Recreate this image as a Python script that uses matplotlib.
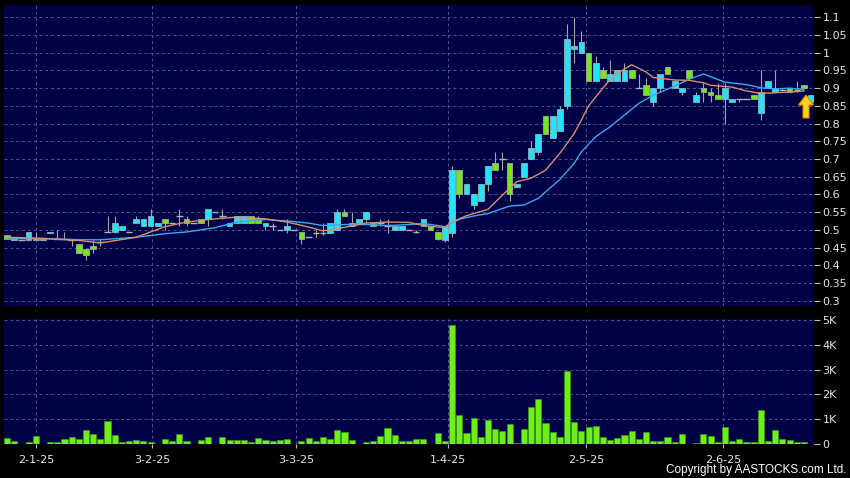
import matplotlib
matplotlib.use("Agg")
import matplotlib.pyplot as plt
import numpy as np
from matplotlib.patches import Polygon

# ---------------- data ----------------
opens = [.485,.470,.470,.470,.475,.470,.490,.475,.475,.470,
         .460,.445,.455,.465,.495,.495,.500,.495,.520,.510,
         .510,.510,.530,.520,.540,.530,.520,.530,.530,.550,
         .540,.510,.520,.520,.540,.530,.510,.510,.500,.500,
         .500,.495,.480,.490,.490,.490,.500,.550,.510,.520,
         .530,.520,.520,.510,.500,.500,.500,.495,.510,.510,
         .495,.470,.490,.670,.600,.570,.580,.630,.690,.700,
         .690,.620,.650,.700,.720,.820,.760,.780,.850,1.010,
         1.000,1.000,.920,.950,.920,.920,.920,.950,.900,.910,
         .860,.900,.960,.900,.890,.950,.860,.900,.890,.880,
         .870,.860,.870,.870,.880,.830,.900,.890,.895,.900,
         .895,.910,.860]
highs = [.485,.475,.470,.495,.495,.475,.495,.500,.495,.470,
         .460,.445,.470,.475,.540,.540,.510,.495,.540,.530,
         .560,.520,.530,.520,.560,.540,.520,.530,.560,.550,
         .560,.520,.540,.540,.540,.540,.520,.520,.500,.530,
         .500,.495,.480,.500,.520,.520,.560,.560,.550,.530,
         .550,.520,.530,.530,.510,.510,.500,.500,.530,.510,
         .495,.510,.680,.670,.630,.600,.630,.680,.720,.720,
         .690,.630,.690,.750,.770,.820,.820,.850,1.080,1.100,
         1.060,1.000,.990,.960,.980,.950,.970,.950,.940,.930,
         .900,.940,.960,.920,.900,.950,.890,.915,.900,.915,
         .915,.870,.870,.870,.880,.950,.920,.950,.900,.900,
         .920,.910,.880]
lows = [.475,.470,.470,.470,.470,.470,.490,.475,.475,.455,
        .435,.415,.435,.455,.495,.490,.500,.495,.520,.510,
        .510,.510,.500,.520,.510,.510,.520,.520,.510,.550,
        .530,.510,.520,.520,.520,.520,.500,.500,.500,.490,
        .500,.460,.480,.480,.485,.490,.500,.540,.510,.520,
        .520,.510,.510,.490,.500,.500,.500,.490,.510,.500,
        .470,.465,.480,.590,.600,.560,.580,.610,.670,.670,
        .580,.620,.650,.700,.710,.770,.760,.780,.840,.970,
        1.000,.920,.920,.930,.920,.920,.920,.930,.900,.880,
        .850,.890,.940,.900,.880,.930,.860,.860,.860,.870,
        .800,.860,.860,.870,.870,.810,.900,.890,.895,.890,
        .890,.900,.860]
closes = [.475,.475,.470,.495,.470,.475,.495,.475,.475,.470,
          .435,.430,.445,.465,.495,.520,.510,.495,.530,.530,
          .540,.520,.520,.520,.540,.520,.520,.520,.560,.550,
          .540,.520,.540,.540,.520,.520,.520,.510,.500,.510,
          .500,.475,.480,.490,.490,.520,.550,.540,.520,.530,
          .550,.510,.520,.510,.510,.510,.500,.495,.530,.500,
          .475,.510,.670,.600,.630,.600,.630,.680,.670,.700,
          .600,.630,.690,.730,.770,.770,.820,.840,1.040,1.020,
          1.030,.920,.970,.930,.940,.950,.950,.930,.900,.880,
          .900,.940,.940,.920,.900,.930,.880,.890,.880,.870,
          .900,.870,.870,.870,.870,.890,.920,.900,.895,.890,
          .895,.900,.880]
# volume in thousands of shares
volumes_k = [0.24,0.11,0,0.08,0.33,0,0.07,0.07,0.18,0.26,
             0.20,0.56,0.38,0.18,0.93,0.35,0.05,0.09,0.14,0.09,
             0.07,0,0.19,0.11,0.38,0.11,0,0.15,0.27,0,
             0.27,0.14,0.15,0.14,0.08,0.23,0.15,0.11,0.16,0.19,
             0,0.11,0.23,0.09,0.27,0.20,0.56,0.47,0.14,0,
             0.05,0.11,0.33,0.64,0.34,0.12,0.09,0.18,0.18,0,
             0.42,0.11,4.81,1.17,0.42,1.06,0.27,0.95,0.58,0.50,
             0.80,0.04,0.60,1.50,1.80,0.84,0.47,0.28,2.95,0.89,
             0.51,0.69,0.70,0.26,0.16,0.22,0.37,0.51,0.20,0.46,
             0.11,0.12,0.26,0.08,0.38,0,0.04,0.39,0.31,0.05,
             0.66,0.11,0.19,0.07,0.07,1.38,0.11,0.54,0.19,0.16,
             0.07,0.07,0]
# moving averages (candle index, value)
ma_short_idx = [0,5,10,13,18,22,25,29,32,36,39,42,44,47,50,53,56,58,60,61,62,64,67,69,71,
                73,75,77,79,80,81,82,84,85,87,89,90,93,95,97,98,101,103,105,107,109,111]
ma_short = [.479,.476,.470,.463,.479,.509,.522,.531,.536,.531,.522,.508,.497,.507,.519,.522,
            .521,.512,.508,.507,.522,.540,.558,.598,.636,.646,.668,.716,.772,.810,.850,.875,
            .925,.942,.966,.946,.930,.923,.922,.915,.908,.903,.892,.885,.887,.889,.892]
ma_long_idx = [0,5,10,13,18,22,25,29,32,36,39,42,44,47,50,53,56,58,60,61,63,65,67,70,72,
               74,77,79,80,82,84,86,88,90,93,95,97,100,103,105,107,109,111]
ma_long = [.475,.475,.472,.472,.479,.489,.494,.506,.522,.529,.525,.519,.512,.515,.515,.512,
           .515,.518,.512,.509,.530,.539,.546,.567,.570,.589,.642,.688,.720,.763,.791,.824,
           .857,.880,.906,.925,.940,.917,.910,.901,.898,.900,.896]
date_labels = ["2-1-25", "3-2-25", "3-3-25", "1-4-25", "2-5-25", "2-6-25"]
price_ticks = [0.3,0.35,0.4,0.45,0.5,0.55,0.6,0.65,0.7,0.75,0.8,0.85,0.9,0.95,1.0,1.05,1.1]
price_tick_labels = ["0.3","0.35","0.4","0.45","0.5","0.55","0.6","0.65","0.7","0.75",
                     "0.8","0.85","0.9","0.95","1","1.05","1.1"]
vol_ticks = [0, 1, 2, 3, 4, 5]
vol_tick_labels = ["0", "1K", "2K", "3K", "4K", "5K"]

# ---------------- layout / style ----------------
date_pos = [4.04, 20.2, 40.25, 61.45, 80.65, 99.72]
W, H = 850, 478
BG = "#000046"
GRID = "#55558a"
CYAN = "#22e4f4"
GREEN = "#72e81c"
TXT = "#e6e6e6"

fig = plt.figure(figsize=(W / 100, H / 100), dpi=100, facecolor="black")

def frame(x0, y0, x1, y1):
    return [x0 / W, 1 - y1 / H, (x1 - x0) / W, (y1 - y0) / H]

axp = fig.add_axes(frame(4, 5, 814, 306))
axv = fig.add_axes(frame(4, 319, 814, 443.7))

o = np.array(opens); hi = np.array(highs); lo = np.array(lows); c = np.array(closes)
idx = np.arange(len(o))

for ax in (axp, axv):
    ax.set_facecolor(BG)
    for s in ax.spines.values():
        s.set_visible(False)
    ax.set_xlim(-0.42, 112.4)
    ax.set_xticks(date_pos)
    ax.grid(True, color=GRID, linestyle=(0, (3, 3)), linewidth=0.7)
    ax.set_axisbelow(True)
    ax.yaxis.tick_right()
    ax.tick_params(axis="y", direction="out", length=4, width=0.8, color="#bbbbbb",
                   labelcolor=TXT, labelsize=8, pad=2, left=False, right=True,
                   labelleft=False, labelright=True)

# price panel
axp.set_ylim(0.285, 1.1347)
axp.set_yticks(price_ticks)
axp.set_yticklabels(price_tick_labels)
axp.tick_params(axis="x", length=0, labelbottom=False)

axp.vlines(idx, lo, hi, color="#a5a5a5", linewidth=0.8, zorder=2)
up = c > o
dn = c < o
dj = c == o
axp.bar(idx[up], (c - o)[up], bottom=o[up], width=0.8, color=CYAN,
        edgecolor="#8fb4bc", linewidth=0.6, zorder=3)
axp.bar(idx[dn], (o - c)[dn], bottom=c[dn], width=0.8, color=GREEN,
        edgecolor="#9ab090", linewidth=0.6, zorder=3)
axp.hlines(c[dj], idx[dj] - 0.45, idx[dj] + 0.45, color="#b5b5b5", linewidth=1.0, zorder=3)

axp.plot(ma_long_idx, ma_long, color="#3aa8ee", linewidth=1.0, zorder=4)
axp.plot(ma_short_idx, ma_short, color="#d8906c", linewidth=1.0, zorder=4)

# volume panel
v = np.array(volumes_k)
axv.bar(np.arange(len(v)), v, width=0.85, color="#6cf018", edgecolor="#3c9a12",
        linewidth=0.5, zorder=3)
axv.set_ylim(0, 5.057)
axv.set_yticks(vol_ticks)
axv.set_yticklabels(vol_tick_labels)
axv.set_xticklabels(date_labels)
axv.tick_params(axis="x", direction="out", length=3, width=0.8, color="#bbbbbb",
                labelcolor=TXT, labelsize=8, pad=5)

# yellow up-arrow marker (decoration)
arrow_px = [(806, 95), (813.5, 105), (809, 105), (809, 118), (803, 118), (803, 105), (798.5, 105)]
arrow = Polygon([(x / W, 1 - y / H) for x, y in arrow_px], closed=True,
                transform=fig.transFigure, facecolor="#ffd21a", edgecolor="#e08a00",
                linewidth=0.8, zorder=10)
fig.patches.append(arrow)

fig.text(846 / W, 1 - 470 / H, "Copyright by AASTOCKS.com Ltd.", ha="right", va="center",
         color="white", fontsize=8.5, family=["Liberation Sans", "DejaVu Sans"])

fig.savefig("out.png", dpi=100, facecolor="black")
